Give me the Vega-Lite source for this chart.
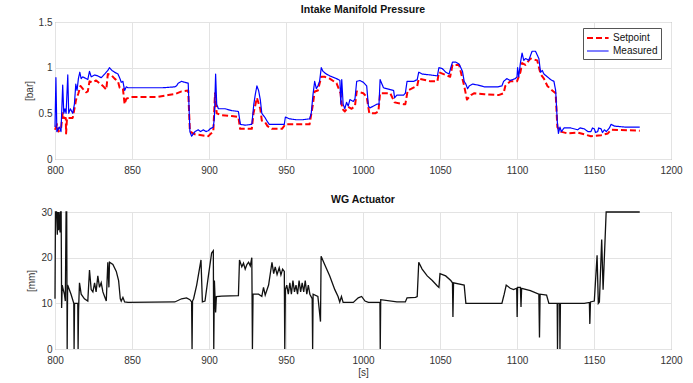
{
"$schema": "https://vega.github.io/schema/vega-lite/v6.json",
"padding": {"left": 23, "top": 4, "right": 5, "bottom": 2},
"background": "white",
"spacing": 18,
"config": {
  "font": "Liberation Sans",
  "view": {"stroke": "#8c8c8c", "strokeWidth": 1},
  "axis": {"grid": true, "gridColor": "#e3e3e3", "domain": false, "ticks": false, "labelFontSize": 10, "labelColor": "#333333", "titleFontSize": 10, "titleFontWeight": "normal", "titleColor": "#333333", "labelPadding": 3, "titlePadding": 4, "format": "~r"},
  "axisX": {"labelFlush": false},
  "title": {"fontSize": 10.5, "fontWeight": "bold", "color": "#111111", "offset": 2},
  "legend": {"orient": "none", "legendX": 528, "legendY": 6, "strokeColor": "#555555", "fillColor": "white", "padding": 3, "symbolType": "M-1,0H2.6", "symbolSize": 144, "symbolStrokeWidth": 1.8, "labelFontSize": 10, "rowPadding": 1, "labelColor": "#111111", "labelOffset": 13}
},
"datasets": {
"imp": [
{"t":800.0,"s":"Setpoint","v":0.32},{"t":801.3,"s":"Setpoint","v":0.38},{"t":802.2,"s":"Setpoint","v":0.3},{"t":803.9,"s":"Setpoint","v":0.33},{"t":805.0,"s":"Setpoint","v":0.5},{"t":805.7,"s":"Setpoint","v":0.45},{"t":807.0,"s":"Setpoint","v":0.45},{"t":807.2,"s":"Setpoint","v":0.28},{"t":807.8,"s":"Setpoint","v":0.45},{"t":809.3,"s":"Setpoint","v":0.45},{"t":811.5,"s":"Setpoint","v":0.45},{"t":812.6,"s":"Setpoint","v":0.55},{"t":813.7,"s":"Setpoint","v":0.65},{"t":815.2,"s":"Setpoint","v":0.72},{"t":816.5,"s":"Setpoint","v":0.8},{"t":818.0,"s":"Setpoint","v":0.77},{"t":820.2,"s":"Setpoint","v":0.73},{"t":821.3,"s":"Setpoint","v":0.74},{"t":822.4,"s":"Setpoint","v":0.85},{"t":824.6,"s":"Setpoint","v":0.84},{"t":826.7,"s":"Setpoint","v":0.86},{"t":828.9,"s":"Setpoint","v":0.83},{"t":831.1,"s":"Setpoint","v":0.8},{"t":833.3,"s":"Setpoint","v":0.76},{"t":834.3,"s":"Setpoint","v":0.93},{"t":836.5,"s":"Setpoint","v":0.92},{"t":838.7,"s":"Setpoint","v":0.88},{"t":840.9,"s":"Setpoint","v":0.85},{"t":842.0,"s":"Setpoint","v":0.78},{"t":844.1,"s":"Setpoint","v":0.77},{"t":845.2,"s":"Setpoint","v":0.6},{"t":846.3,"s":"Setpoint","v":0.66},{"t":849.6,"s":"Setpoint","v":0.68},{"t":856.1,"s":"Setpoint","v":0.68},{"t":867.0,"s":"Setpoint","v":0.68},{"t":873.5,"s":"Setpoint","v":0.7},{"t":877.8,"s":"Setpoint","v":0.71},{"t":882.2,"s":"Setpoint","v":0.74},{"t":886.5,"s":"Setpoint","v":0.75},{"t":887.6,"s":"Setpoint","v":0.3},{"t":890.9,"s":"Setpoint","v":0.27},{"t":895.2,"s":"Setpoint","v":0.26},{"t":899.6,"s":"Setpoint","v":0.25},{"t":900.7,"s":"Setpoint","v":0.27},{"t":902.8,"s":"Setpoint","v":0.3},{"t":903.9,"s":"Setpoint","v":0.72},{"t":905.0,"s":"Setpoint","v":0.5},{"t":908.3,"s":"Setpoint","v":0.48},{"t":914.8,"s":"Setpoint","v":0.47},{"t":919.1,"s":"Setpoint","v":0.46},{"t":920.2,"s":"Setpoint","v":0.33},{"t":927.8,"s":"Setpoint","v":0.33},{"t":928.9,"s":"Setpoint","v":0.5},{"t":931.1,"s":"Setpoint","v":0.67},{"t":933.3,"s":"Setpoint","v":0.55},{"t":934.3,"s":"Setpoint","v":0.42},{"t":936.5,"s":"Setpoint","v":0.4},{"t":938.0,"s":"Setpoint","v":0.36},{"t":940.9,"s":"Setpoint","v":0.33},{"t":947.4,"s":"Setpoint","v":0.33},{"t":949.6,"s":"Setpoint","v":0.38},{"t":956.0,"s":"Setpoint","v":0.38},{"t":960.0,"s":"Setpoint","v":0.38},{"t":965.3,"s":"Setpoint","v":0.38},{"t":967.5,"s":"Setpoint","v":0.6},{"t":968.6,"s":"Setpoint","v":0.74},{"t":970.7,"s":"Setpoint","v":0.75},{"t":972.9,"s":"Setpoint","v":0.9},{"t":975.1,"s":"Setpoint","v":0.9},{"t":978.4,"s":"Setpoint","v":0.88},{"t":982.8,"s":"Setpoint","v":0.83},{"t":985.4,"s":"Setpoint","v":0.72},{"t":986.5,"s":"Setpoint","v":0.55},{"t":988.2,"s":"Setpoint","v":0.52},{"t":990.4,"s":"Setpoint","v":0.57},{"t":992.6,"s":"Setpoint","v":0.55},{"t":994.8,"s":"Setpoint","v":0.58},{"t":995.9,"s":"Setpoint","v":0.74},{"t":1000.2,"s":"Setpoint","v":0.72},{"t":1002.4,"s":"Setpoint","v":0.68},{"t":1004.1,"s":"Setpoint","v":0.5},{"t":1007.9,"s":"Setpoint","v":0.5},{"t":1010.0,"s":"Setpoint","v":0.52},{"t":1011.1,"s":"Setpoint","v":0.72},{"t":1017.7,"s":"Setpoint","v":0.72},{"t":1020.5,"s":"Setpoint","v":0.62},{"t":1026.4,"s":"Setpoint","v":0.6},{"t":1027.5,"s":"Setpoint","v":0.6},{"t":1029.0,"s":"Setpoint","v":0.75},{"t":1035.2,"s":"Setpoint","v":0.8},{"t":1036.2,"s":"Setpoint","v":0.88},{"t":1043.9,"s":"Setpoint","v":0.85},{"t":1048.3,"s":"Setpoint","v":0.85},{"t":1049.3,"s":"Setpoint","v":0.95},{"t":1053.7,"s":"Setpoint","v":0.92},{"t":1056.6,"s":"Setpoint","v":0.9},{"t":1058.1,"s":"Setpoint","v":1.03},{"t":1062.4,"s":"Setpoint","v":1.03},{"t":1065.7,"s":"Setpoint","v":0.8},{"t":1067.5,"s":"Setpoint","v":0.65},{"t":1070.1,"s":"Setpoint","v":0.7},{"t":1072.3,"s":"Setpoint","v":0.72},{"t":1078.8,"s":"Setpoint","v":0.71},{"t":1088.0,"s":"Setpoint","v":0.7},{"t":1091.3,"s":"Setpoint","v":0.72},{"t":1092.4,"s":"Setpoint","v":0.8},{"t":1095.6,"s":"Setpoint","v":0.85},{"t":1100.0,"s":"Setpoint","v":0.85},{"t":1102.2,"s":"Setpoint","v":0.95},{"t":1103.3,"s":"Setpoint","v":1.05},{"t":1105.5,"s":"Setpoint","v":1.03},{"t":1108.7,"s":"Setpoint","v":1.1},{"t":1113.1,"s":"Setpoint","v":1.08},{"t":1115.3,"s":"Setpoint","v":0.93},{"t":1117.5,"s":"Setpoint","v":0.88},{"t":1119.7,"s":"Setpoint","v":0.8},{"t":1122.9,"s":"Setpoint","v":0.75},{"t":1125.1,"s":"Setpoint","v":0.72},{"t":1126.2,"s":"Setpoint","v":0.35},{"t":1128.4,"s":"Setpoint","v":0.3},{"t":1132.8,"s":"Setpoint","v":0.28},{"t":1139.3,"s":"Setpoint","v":0.29},{"t":1143.7,"s":"Setpoint","v":0.27},{"t":1148.0,"s":"Setpoint","v":0.25},{"t":1154.6,"s":"Setpoint","v":0.26},{"t":1159.0,"s":"Setpoint","v":0.28},{"t":1161.1,"s":"Setpoint","v":0.32},{"t":1179.7,"s":"Setpoint","v":0.31},
{"t":800.0,"s":"Measured","v":0.35},{"t":800.6,"s":"Measured","v":0.89},{"t":801.2,"s":"Measured","v":0.3},{"t":802.8,"s":"Measured","v":0.35},{"t":803.9,"s":"Measured","v":0.3},{"t":805.0,"s":"Measured","v":0.81},{"t":805.7,"s":"Measured","v":0.5},{"t":806.5,"s":"Measured","v":0.55},{"t":807.2,"s":"Measured","v":0.5},{"t":808.3,"s":"Measured","v":0.92},{"t":808.9,"s":"Measured","v":0.5},{"t":810.0,"s":"Measured","v":0.55},{"t":811.5,"s":"Measured","v":0.5},{"t":812.6,"s":"Measured","v":0.6},{"t":813.5,"s":"Measured","v":0.82},{"t":814.3,"s":"Measured","v":0.75},{"t":815.2,"s":"Measured","v":0.88},{"t":816.1,"s":"Measured","v":0.95},{"t":817.0,"s":"Measured","v":0.88},{"t":818.0,"s":"Measured","v":0.9},{"t":820.2,"s":"Measured","v":0.88},{"t":821.3,"s":"Measured","v":0.87},{"t":822.4,"s":"Measured","v":0.96},{"t":823.5,"s":"Measured","v":0.9},{"t":825.7,"s":"Measured","v":0.92},{"t":827.8,"s":"Measured","v":0.91},{"t":830.0,"s":"Measured","v":0.89},{"t":832.2,"s":"Measured","v":0.93},{"t":834.3,"s":"Measured","v":0.97},{"t":835.4,"s":"Measured","v":1.0},{"t":837.0,"s":"Measured","v":0.97},{"t":838.7,"s":"Measured","v":0.95},{"t":840.9,"s":"Measured","v":0.93},{"t":842.2,"s":"Measured","v":0.88},{"t":843.0,"s":"Measured","v":0.84},{"t":844.1,"s":"Measured","v":0.85},{"t":845.2,"s":"Measured","v":0.75},{"t":846.3,"s":"Measured","v":0.79},{"t":847.4,"s":"Measured","v":0.78},{"t":860.0,"s":"Measured","v":0.78},{"t":870.0,"s":"Measured","v":0.78},{"t":877.8,"s":"Measured","v":0.79},{"t":878.9,"s":"Measured","v":0.8},{"t":880.0,"s":"Measured","v":0.83},{"t":882.2,"s":"Measured","v":0.85},{"t":884.3,"s":"Measured","v":0.84},{"t":886.5,"s":"Measured","v":0.83},{"t":887.6,"s":"Measured","v":0.3},{"t":888.7,"s":"Measured","v":0.25},{"t":890.9,"s":"Measured","v":0.3},{"t":893.0,"s":"Measured","v":0.32},{"t":894.5,"s":"Measured","v":0.3},{"t":896.3,"s":"Measured","v":0.32},{"t":898.0,"s":"Measured","v":0.3},{"t":899.6,"s":"Measured","v":0.31},{"t":900.7,"s":"Measured","v":0.33},{"t":902.8,"s":"Measured","v":0.35},{"t":903.5,"s":"Measured","v":0.45},{"t":904.3,"s":"Measured","v":0.93},{"t":905.0,"s":"Measured","v":0.6},{"t":906.1,"s":"Measured","v":0.55},{"t":910.4,"s":"Measured","v":0.55},{"t":914.8,"s":"Measured","v":0.53},{"t":919.1,"s":"Measured","v":0.52},{"t":920.4,"s":"Measured","v":0.38},{"t":923.5,"s":"Measured","v":0.37},{"t":927.8,"s":"Measured","v":0.38},{"t":929.1,"s":"Measured","v":0.6},{"t":930.0,"s":"Measured","v":0.7},{"t":931.1,"s":"Measured","v":0.8},{"t":932.2,"s":"Measured","v":0.75},{"t":933.3,"s":"Measured","v":0.65},{"t":934.3,"s":"Measured","v":0.5},{"t":936.5,"s":"Measured","v":0.45},{"t":937.5,"s":"Measured","v":0.42},{"t":939.1,"s":"Measured","v":0.38},{"t":941.3,"s":"Measured","v":0.38},{"t":945.6,"s":"Measured","v":0.38},{"t":948.9,"s":"Measured","v":0.38},{"t":949.6,"s":"Measured","v":0.46},{"t":952.2,"s":"Measured","v":0.44},{"t":956.6,"s":"Measured","v":0.43},{"t":960.9,"s":"Measured","v":0.43},{"t":965.3,"s":"Measured","v":0.44},{"t":966.4,"s":"Measured","v":0.5},{"t":967.5,"s":"Measured","v":0.7},{"t":968.6,"s":"Measured","v":0.85},{"t":969.7,"s":"Measured","v":0.77},{"t":970.7,"s":"Measured","v":0.8},{"t":971.8,"s":"Measured","v":0.85},{"t":972.9,"s":"Measured","v":1.0},{"t":974.0,"s":"Measured","v":0.96},{"t":976.2,"s":"Measured","v":0.93},{"t":978.4,"s":"Measured","v":0.91},{"t":982.8,"s":"Measured","v":0.88},{"t":985.0,"s":"Measured","v":0.86},{"t":985.6,"s":"Measured","v":0.6},{"t":986.2,"s":"Measured","v":0.87},{"t":987.1,"s":"Measured","v":0.6},{"t":988.2,"s":"Measured","v":0.55},{"t":989.3,"s":"Measured","v":0.62},{"t":990.4,"s":"Measured","v":0.58},{"t":991.5,"s":"Measured","v":0.65},{"t":993.7,"s":"Measured","v":0.63},{"t":994.8,"s":"Measured","v":0.66},{"t":995.9,"s":"Measured","v":0.85},{"t":998.0,"s":"Measured","v":0.86},{"t":1000.2,"s":"Measured","v":0.84},{"t":1002.4,"s":"Measured","v":0.8},{"t":1003.5,"s":"Measured","v":0.58},{"t":1004.6,"s":"Measured","v":0.56},{"t":1006.8,"s":"Measured","v":0.58},{"t":1009.0,"s":"Measured","v":0.6},{"t":1010.4,"s":"Measured","v":0.6},{"t":1011.1,"s":"Measured","v":0.87},{"t":1013.3,"s":"Measured","v":0.78},{"t":1017.7,"s":"Measured","v":0.76},{"t":1019.9,"s":"Measured","v":0.75},{"t":1020.5,"s":"Measured","v":0.67},{"t":1022.0,"s":"Measured","v":0.7},{"t":1026.4,"s":"Measured","v":0.7},{"t":1027.5,"s":"Measured","v":0.72},{"t":1028.6,"s":"Measured","v":0.85},{"t":1033.0,"s":"Measured","v":0.85},{"t":1035.2,"s":"Measured","v":0.87},{"t":1036.2,"s":"Measured","v":0.95},{"t":1038.4,"s":"Measured","v":0.93},{"t":1043.9,"s":"Measured","v":0.92},{"t":1048.3,"s":"Measured","v":0.91},{"t":1049.3,"s":"Measured","v":1.0},{"t":1051.5,"s":"Measured","v":0.99},{"t":1053.7,"s":"Measured","v":0.95},{"t":1055.9,"s":"Measured","v":0.93},{"t":1057.0,"s":"Measured","v":1.0},{"t":1058.1,"s":"Measured","v":1.06},{"t":1060.3,"s":"Measured","v":1.06},{"t":1062.4,"s":"Measured","v":1.04},{"t":1064.6,"s":"Measured","v":0.96},{"t":1065.7,"s":"Measured","v":0.85},{"t":1066.8,"s":"Measured","v":0.82},{"t":1067.9,"s":"Measured","v":0.77},{"t":1069.0,"s":"Measured","v":0.8},{"t":1071.2,"s":"Measured","v":0.82},{"t":1074.5,"s":"Measured","v":0.81},{"t":1078.8,"s":"Measured","v":0.79},{"t":1087.6,"s":"Measured","v":0.79},{"t":1090.2,"s":"Measured","v":0.8},{"t":1091.3,"s":"Measured","v":0.85},{"t":1093.4,"s":"Measured","v":0.88},{"t":1095.6,"s":"Measured","v":0.86},{"t":1098.9,"s":"Measured","v":0.88},{"t":1100.0,"s":"Measured","v":0.9},{"t":1100.4,"s":"Measured","v":1.0},{"t":1101.1,"s":"Measured","v":0.9},{"t":1102.2,"s":"Measured","v":1.05},{"t":1103.3,"s":"Measured","v":1.16},{"t":1104.4,"s":"Measured","v":1.08},{"t":1105.5,"s":"Measured","v":1.1},{"t":1107.6,"s":"Measured","v":1.08},{"t":1109.8,"s":"Measured","v":1.18},{"t":1112.0,"s":"Measured","v":1.18},{"t":1114.2,"s":"Measured","v":1.1},{"t":1115.3,"s":"Measured","v":0.95},{"t":1116.4,"s":"Measured","v":0.97},{"t":1117.5,"s":"Measured","v":0.93},{"t":1119.7,"s":"Measured","v":0.9},{"t":1121.8,"s":"Measured","v":0.87},{"t":1124.0,"s":"Measured","v":0.85},{"t":1125.1,"s":"Measured","v":0.75},{"t":1126.2,"s":"Measured","v":0.4},{"t":1126.9,"s":"Measured","v":0.28},{"t":1127.9,"s":"Measured","v":0.35},{"t":1128.8,"s":"Measured","v":0.3},{"t":1130.6,"s":"Measured","v":0.34},{"t":1134.9,"s":"Measured","v":0.34},{"t":1139.3,"s":"Measured","v":0.32},{"t":1141.0,"s":"Measured","v":0.34},{"t":1143.7,"s":"Measured","v":0.33},{"t":1146.0,"s":"Measured","v":0.3},{"t":1148.0,"s":"Measured","v":0.3},{"t":1149.0,"s":"Measured","v":0.34},{"t":1150.2,"s":"Measured","v":0.33},{"t":1151.0,"s":"Measured","v":0.29},{"t":1152.4,"s":"Measured","v":0.3},{"t":1153.0,"s":"Measured","v":0.34},{"t":1154.6,"s":"Measured","v":0.33},{"t":1155.5,"s":"Measured","v":0.29},{"t":1156.8,"s":"Measured","v":0.32},{"t":1158.0,"s":"Measured","v":0.3},{"t":1160.0,"s":"Measured","v":0.34},{"t":1161.1,"s":"Measured","v":0.38},{"t":1163.3,"s":"Measured","v":0.36},{"t":1169.9,"s":"Measured","v":0.35},{"t":1179.7,"s":"Measured","v":0.35}
],
"wg": [
{"t":800.0,"v":11},{"t":800.3,"v":30},{"t":801.0,"v":30},{"t":801.5,"v":25},{"t":801.8,"v":30},{"t":802.3,"v":26},{"t":802.6,"v":30},{"t":803.3,"v":25.5},{"t":803.6,"v":30},{"t":804.0,"v":30},{"t":804.3,"v":9},{"t":804.7,"v":14},{"t":805.0,"v":13.5},{"t":806.1,"v":12},{"t":806.7,"v":10.5},{"t":807.2,"v":30},{"t":807.6,"v":30},{"t":807.9,"v":0},{"t":808.2,"v":14},{"t":810.4,"v":12},{"t":812.2,"v":10},{"t":812.4,"v":0},{"t":812.7,"v":10},{"t":814.8,"v":10},{"t":815.0,"v":0},{"t":815.3,"v":8.5},{"t":815.9,"v":14.5},{"t":817.0,"v":12},{"t":819.1,"v":11},{"t":821.3,"v":10.5},{"t":822.4,"v":17.3},{"t":823.5,"v":13},{"t":824.6,"v":12.5},{"t":825.7,"v":14.5},{"t":826.7,"v":12.5},{"t":827.8,"v":16},{"t":828.9,"v":13.5},{"t":830.0,"v":14.5},{"t":831.1,"v":12.5},{"t":832.2,"v":11.5},{"t":833.3,"v":10.5},{"t":834.3,"v":19},{"t":835.0,"v":13.5},{"t":835.4,"v":19},{"t":837.6,"v":18.5},{"t":839.8,"v":17},{"t":841.3,"v":15},{"t":842.4,"v":11},{"t":843.0,"v":10.5},{"t":844.1,"v":11.3},{"t":845.2,"v":10.3},{"t":847.4,"v":10.2},{"t":877.8,"v":10.3},{"t":882.2,"v":11},{"t":885.4,"v":11.2},{"t":887.6,"v":10.8},{"t":888.7,"v":10.3},{"t":889.0,"v":0},{"t":889.3,"v":10.5},{"t":890.0,"v":11},{"t":892.0,"v":14},{"t":894.8,"v":19.5},{"t":895.7,"v":10.3},{"t":897.4,"v":10.5},{"t":899.6,"v":16},{"t":901.7,"v":21},{"t":902.8,"v":21.5},{"t":903.1,"v":0},{"t":903.5,"v":15},{"t":904.3,"v":8},{"t":904.8,"v":11.5},{"t":908.3,"v":11.6},{"t":919.1,"v":11.7},{"t":919.8,"v":19.5},{"t":921.3,"v":18},{"t":922.4,"v":18.8},{"t":923.5,"v":17.5},{"t":924.6,"v":18.5},{"t":925.7,"v":19},{"t":926.8,"v":18.2},{"t":927.8,"v":20},{"t":928.2,"v":0},{"t":928.6,"v":12},{"t":932.2,"v":12},{"t":934.3,"v":11.5},{"t":935.4,"v":13.5},{"t":936.5,"v":11.8},{"t":938.7,"v":14},{"t":940.9,"v":19},{"t":942.0,"v":16.5},{"t":943.0,"v":18},{"t":944.2,"v":16.3},{"t":945.6,"v":17.8},{"t":946.7,"v":16.2},{"t":947.8,"v":17.5},{"t":948.9,"v":17},{"t":949.2,"v":0},{"t":949.6,"v":13},{"t":950.5,"v":14},{"t":951.5,"v":12},{"t":952.5,"v":14.5},{"t":953.5,"v":12},{"t":954.5,"v":15},{"t":955.5,"v":12.5},{"t":956.5,"v":14},{"t":957.5,"v":12},{"t":958.5,"v":15},{"t":959.5,"v":12.5},{"t":960.5,"v":14.5},{"t":961.5,"v":12.5},{"t":962.5,"v":15},{"t":963.5,"v":12},{"t":964.5,"v":14},{"t":965.5,"v":12},{"t":967.0,"v":11},{"t":967.3,"v":0},{"t":967.6,"v":12},{"t":970.7,"v":11.5},{"t":972.4,"v":6},{"t":972.8,"v":20.3},{"t":975.1,"v":18.5},{"t":978.4,"v":16},{"t":981.7,"v":13},{"t":983.8,"v":11.5},{"t":984.9,"v":10.3},{"t":986.0,"v":11.5},{"t":987.1,"v":10.2},{"t":993.7,"v":10.2},{"t":996.9,"v":11.2},{"t":999.1,"v":11.5},{"t":1001.3,"v":10.5},{"t":1003.5,"v":10.2},{"t":1011.0,"v":10.2},{"t":1011.2,"v":0},{"t":1011.5,"v":10.8},{"t":1022.0,"v":10.3},{"t":1027.5,"v":10.3},{"t":1028.6,"v":11.2},{"t":1034.1,"v":11.3},{"t":1035.2,"v":11.5},{"t":1036.2,"v":19},{"t":1038.4,"v":17.5},{"t":1041.7,"v":16},{"t":1045.0,"v":15},{"t":1048.3,"v":13.8},{"t":1049.3,"v":13.5},{"t":1050.0,"v":16.5},{"t":1053.7,"v":16},{"t":1057.0,"v":15},{"t":1058.1,"v":14.5},{"t":1058.4,"v":7},{"t":1058.8,"v":14.5},{"t":1065.7,"v":14},{"t":1066.8,"v":10},{"t":1090.2,"v":10},{"t":1091.3,"v":11.5},{"t":1091.7,"v":12},{"t":1093.0,"v":14},{"t":1095.6,"v":13.3},{"t":1097.8,"v":13},{"t":1099.8,"v":13.3},{"t":1100.1,"v":7},{"t":1100.4,"v":13.5},{"t":1102.2,"v":13.5},{"t":1102.6,"v":9.2},{"t":1103.0,"v":13.3},{"t":1108.7,"v":12.8},{"t":1114.2,"v":12},{"t":1114.6,"v":2.5},{"t":1115.0,"v":12},{"t":1119.2,"v":11.8},{"t":1120.7,"v":10},{"t":1126.1,"v":10},{"t":1126.3,"v":0},{"t":1126.6,"v":10},{"t":1127.7,"v":10},{"t":1127.9,"v":0},{"t":1128.2,"v":10},{"t":1143.7,"v":10},{"t":1147.0,"v":10.2},{"t":1147.3,"v":5.5},{"t":1147.7,"v":10.3},{"t":1150.2,"v":10.5},{"t":1152.0,"v":20.5},{"t":1152.8,"v":10},{"t":1153.5,"v":10.3},{"t":1155.0,"v":24},{"t":1155.9,"v":13},{"t":1157.9,"v":30},{"t":1179.7,"v":30}
]
},
"vconcat": [
{
  "width": 616, "height": 137,
  "title": "Intake Manifold Pressure",
  "data": {"name": "imp"},
  "mark": {"type": "line", "strokeJoin": "round"},
  "encoding": {
    "x": {"field": "t", "type": "quantitative", "scale": {"domain": [800, 1200], "nice": false}, "axis": {"values": [800, 850, 900, 950, 1000, 1050, 1100, 1150, 1200], "title": null, "labelPadding": 6}},
    "y": {"field": "v", "type": "quantitative", "scale": {"domain": [0, 1.5], "nice": false}, "axis": {"values": [0, 0.5, 1, 1.5], "title": "[bar]"}},
    "color": {"field": "s", "type": "nominal", "scale": {"domain": ["Setpoint", "Measured"], "range": ["#ff0000", "#0000ff"]}, "legend": {"title": null}},
    "strokeDash": {"field": "s", "type": "nominal", "scale": {"domain": ["Setpoint", "Measured"], "range": [[6, 3], [1, 0]]}, "legend": {"title": null}},
    "strokeWidth": {"field": "s", "type": "nominal", "scale": {"domain": ["Setpoint", "Measured"], "range": [2, 1.2]}, "legend": null}
  }
},
{
  "width": 616, "height": 137,
  "title": "WG Actuator",
  "data": {"name": "wg"},
  "mark": {"type": "line", "color": "#111111", "strokeWidth": 1.3},
  "encoding": {
    "x": {"field": "t", "type": "quantitative", "scale": {"domain": [800, 1200], "nice": false}, "axis": {"values": [800, 850, 900, 950, 1000, 1050, 1100, 1150, 1200], "title": "[s]", "labelPadding": 6, "titlePadding": 2}},
    "y": {"field": "v", "type": "quantitative", "scale": {"domain": [0, 30], "nice": false}, "axis": {"values": [0, 10, 20, 30], "title": "[mm]"}}
  }
}
]
}
